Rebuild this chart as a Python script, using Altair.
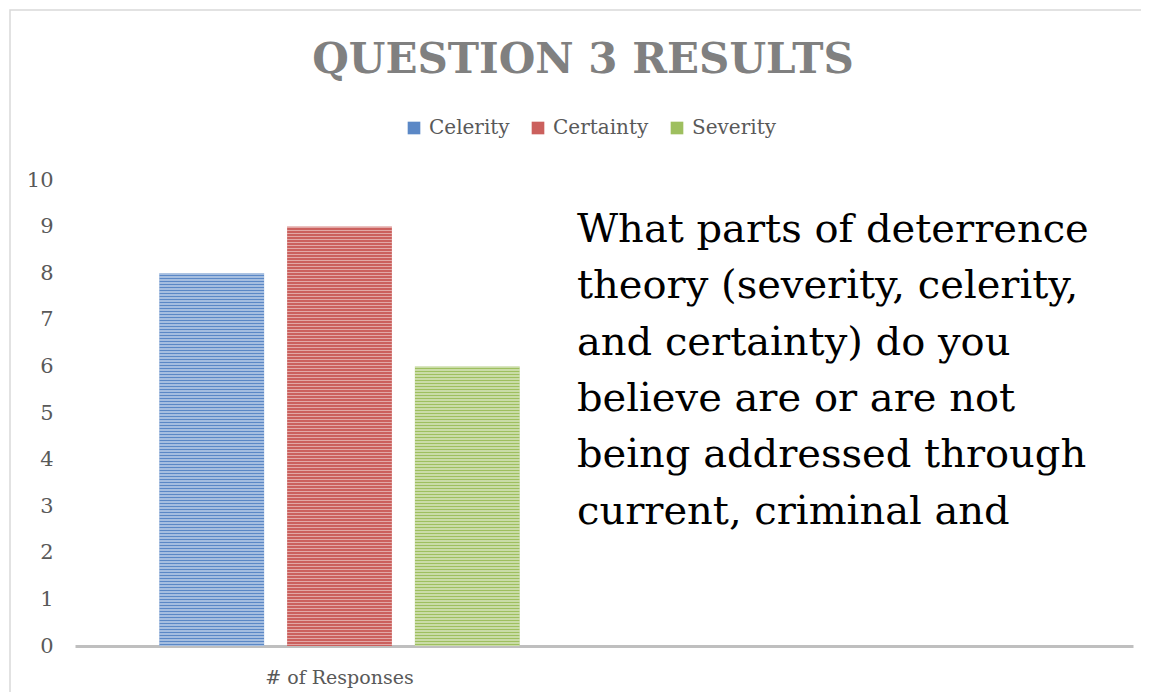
import altair as alt
import pandas as pd

# ---- data ----
categories = ["# of Responses", ""]
series = ["Celerity", "Certainty", "Severity"]
values = [8, 9, 6]
colors = ["#5B88C6", "#CB605D", "#9EBF5F"]
title_text = "QUESTION 3 RESULTS"
note_lines = [
    "What parts of deterrence",
    "theory (severity, celerity,",
    "and certainty) do you",
    "believe are or are not",
    "being addressed through",
    "current, criminal and",
]
y_ticks = list(range(0, 11))

FONT = "DejaVu Serif"
W, H = 1058, 466
Y_MAX = 10

df = pd.DataFrame({"cat": [categories[0]] * 3, "series": series, "val": values})

x_enc = alt.X("cat:N", scale=alt.Scale(domain=categories, paddingInner=0, paddingOuter=0),
              axis=alt.Axis(title=None, labelAngle=0, ticks=False, domain=True,
                            domainColor="#BFBFBF", domainWidth=3, labelFont=FONT,
                            labelFontSize=19, labelColor="#595959", labelPadding=22))
xo_enc = alt.XOffset("series:N", scale=alt.Scale(domain=series, paddingInner=0.18, paddingOuter=0.66))
y_enc = alt.Y("val:Q", scale=alt.Scale(domain=[0, Y_MAX], nice=False),
              axis=alt.Axis(title=None, values=y_ticks, ticks=False, domain=False, grid=False,
                            labelFont=FONT, labelFontSize=21, labelColor="#595959",
                            labelPadding=22))

bars = alt.Chart(df).mark_bar().encode(
    x=x_enc, xOffset=xo_enc, y=y_enc,
    color=alt.Color("series:N", scale=alt.Scale(domain=series, range=colors),
                    legend=alt.Legend(title=None, orient="none", legendX=329, legendY=-62,
                                      direction="horizontal", symbolType="square",
                                      symbolSize=160, symbolStrokeWidth=0,
                                      labelFont=FONT, labelFontSize=20, labelColor="#595959",
                                      labelOffset=5, columnPadding=18)),
)

# horizontal stripe texture overlay (period of 3 px)
def stripe_gradient(bar_px, period=3.0):
    p = period / bar_px
    stops = []
    t = 0.0
    light = "rgba(255,255,255,0.45)"
    clear = "rgba(255,255,255,0)"
    while t < 1.0:
        m = min(t + p / 2, 1.0)
        e = min(t + p, 1.0)
        stops += [alt.GradientStop(offset=t, color=light), alt.GradientStop(offset=m, color=light),
                  alt.GradientStop(offset=m, color=clear), alt.GradientStop(offset=e, color=clear)]
        t += p
    return alt.LinearGradient(gradient="linear", stops=stops, x1=0, x2=0, y1=0, y2=1)

stripe_layers = []
for s, v in zip(series, values):
    stripe_layers.append(
        alt.Chart(df).transform_filter(alt.datum.series == s).mark_bar(
            fill=stripe_gradient(v * H / Y_MAX)
        ).encode(x=x_enc, xOffset=xo_enc, y=y_enc)
    )

one = pd.DataFrame({"k": [0]})
note = alt.Chart(one).mark_text(
    text=note_lines, font=FONT, fontSize=40, lineHeight=56.3, align="left",
    baseline="alphabetic", color="#000000",
).encode(x=alt.value(502), y=alt.value(62))

frame = alt.Chart(one).mark_rect(fill="transparent", stroke="#D9D9D9", strokeWidth=1.5).encode(
    x=alt.value(-65), y=alt.value(-170), x2=alt.value(1200), y2=alt.value(700)
)

chart = alt.layer(frame, bars, *stripe_layers, note).properties(
    width=W, height=H,
    title=alt.TitleParams(title_text, font=FONT, fontSize=42, fontWeight="bold",
                          color="#808080", anchor="middle", dx=-21, offset=0, dy=106,
                          baseline="alphabetic"),
    autosize=alt.AutoSizeParams(type="none"),
    padding={"left": 67, "top": 172, "right": 8, "bottom": 46},
).configure_view(stroke=None)

chart.save("out.html", embed_options={"renderer": "svg", "actions": False})
